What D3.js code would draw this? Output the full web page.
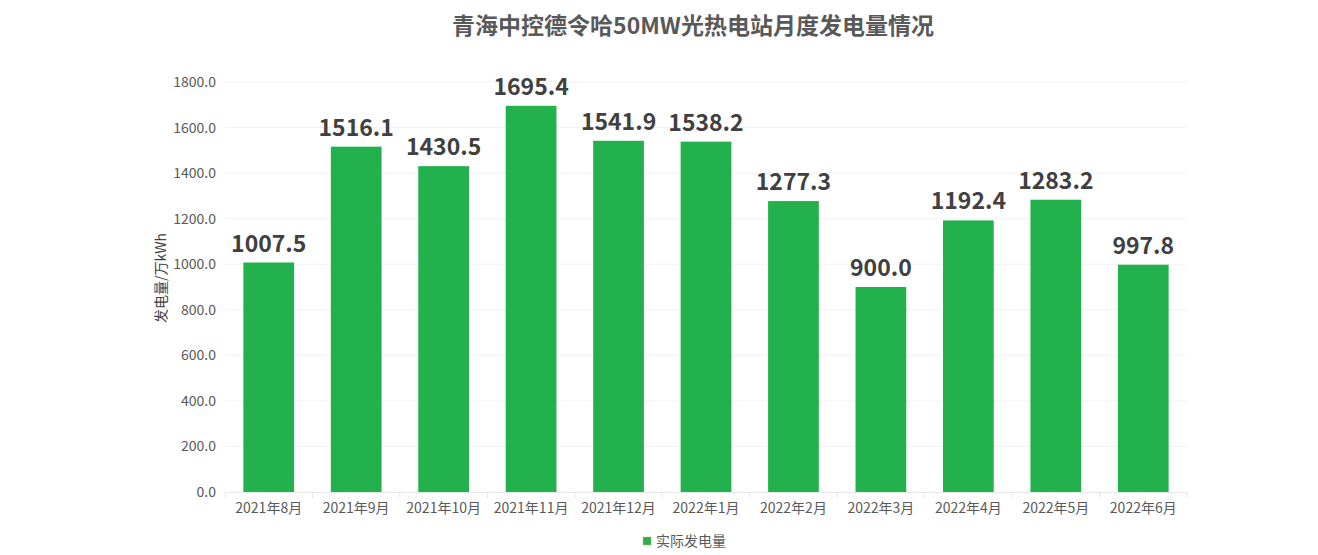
<!DOCTYPE html>
<html><head><meta charset="utf-8">
<script src="https://cdn.jsdelivr.net/npm/d3@7"></script>
<style>
html,body{margin:0;padding:0;background:#fff;}
svg{display:block;font-family:"Noto Sans CJK SC","Noto Sans",sans-serif;}
</style></head>
<body>
<svg id="chart" width="1318" height="555"></svg>
<script>
const title = "青海中控德令哈50MW光热电站月度发电量情况";
const categories = ["2021年8月","2021年9月","2021年10月","2021年11月","2021年12月","2022年1月","2022年2月","2022年3月","2022年4月","2022年5月","2022年6月"];
const values = [1007.5,1516.1,1430.5,1695.4,1541.9,1538.2,1277.3,900.0,1192.4,1283.2,997.8];
const yTicks = [0,200,400,600,800,1000,1200,1400,1600,1800];
const seriesName = "实际发电量";
const yAxisTitle = "发电量/万kWh";

const svg = d3.select("#chart");
const plotL = 225, plotR = 1187, plotT = 82, plotB = 492;

const x = d3.scaleBand().domain(categories).range([plotL, plotR]).paddingInner(0.42).paddingOuter(0.21);
const y = d3.scaleLinear().domain([0, 1800]).range([plotB, plotT]);

// title
svg.append("text").attr("x", 693).attr("y", 34).attr("text-anchor", "middle")
  .attr("font-size", 23).attr("font-weight", "bold").attr("fill", "#595959").text(title);

// grid
svg.append("g").selectAll("line").data(yTicks.filter(d => d > 0)).join("line")
  .attr("x1", plotL).attr("x2", plotR).attr("y1", d => y(d)).attr("y2", d => y(d))
  .attr("stroke", "#f2f2f2").attr("stroke-width", 1);

// y axis labels
const yAxis = d3.axisLeft(y).tickValues(yTicks).tickFormat(d3.format(".1f")).tickSize(0).tickPadding(9);
const gy = svg.append("g").attr("transform", `translate(${plotL},0)`).call(yAxis);
gy.select(".domain").remove();
gy.selectAll("text").attr("font-size", 14).attr("fill", "#595959").attr("font-family", "'Noto Sans CJK SC',sans-serif");

// y axis title
svg.append("text").attr("transform", `translate(166,${278}) rotate(-90)`)
  .attr("text-anchor", "middle").attr("font-size", 14).attr("fill", "#404040").text(yAxisTitle);

// x axis
const xAxis = d3.axisBottom(x).tickSize(0).tickPadding(11);
const gx = svg.append("g").attr("transform", `translate(0,${plotB})`).call(xAxis);
gx.select(".domain").attr("stroke", "#e6e6e6");
gx.selectAll("text").attr("font-size", 14).attr("fill", "#595959").attr("font-family", "'Noto Sans CJK SC',sans-serif");
// category boundary ticks
const bounds = d3.range(categories.length + 1).map(i => plotL + i * (plotR - plotL) / categories.length);
svg.append("g").selectAll("line").data(bounds).join("line")
  .attr("x1", d => d).attr("x2", d => d).attr("y1", plotB).attr("y2", plotB + 6)
  .attr("stroke", "#e6e6e6");

// bars
svg.append("g").selectAll("rect").data(values).join("rect")
  .attr("x", (d, i) => x(categories[i])).attr("width", x.bandwidth())
  .attr("y", d => y(d)).attr("height", d => plotB - y(d))
  .attr("fill", "#22b14c");

// value labels
svg.append("g").selectAll("text").data(values).join("text")
  .attr("x", (d, i) => x(categories[i]) + x.bandwidth() / 2).attr("y", d => y(d) - 11)
  .attr("text-anchor", "middle").attr("font-size", 23).attr("font-weight", "bold")
  .attr("fill", "#404040").text(d => d3.format(".1f")(d));

// legend
const lg = svg.append("g").attr("transform", "translate(643,537)");
lg.append("rect").attr("x", 0).attr("y", 0).attr("width", 8).attr("height", 8)
  .attr("fill", "#22b14c").attr("stroke", "#f4a27a").attr("stroke-width", 0.5);
lg.append("text").attr("x", 13).attr("y", 9).attr("font-size", 14).attr("fill", "#595959").text(seriesName);
</script>
</body></html>
